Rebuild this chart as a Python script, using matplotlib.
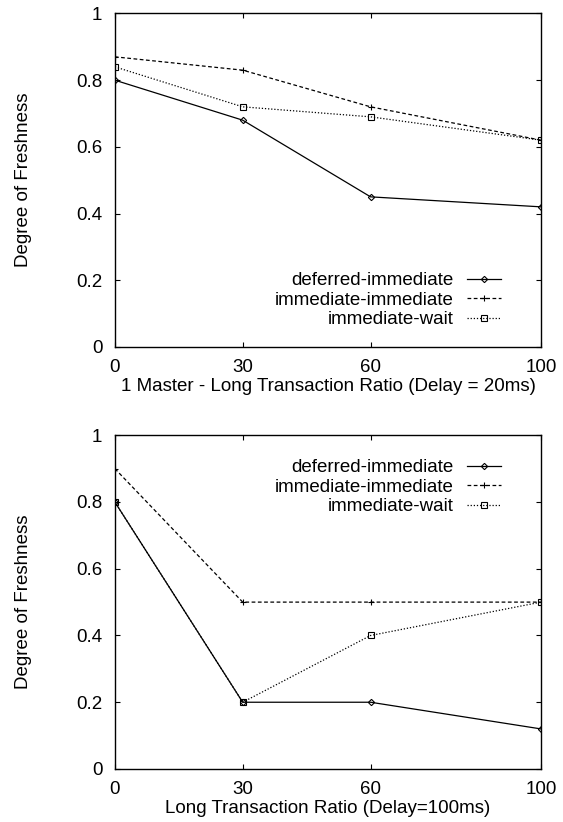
import matplotlib
matplotlib.use('Agg')
import matplotlib.pyplot as plt

plt.rcParams['font.family'] = ['Liberation Sans', 'DejaVu Sans']
plt.rcParams['font.size'] = 13.5

# x values (long transaction ratio)
ratio = [0, 30, 60, 100]

# top panel: 1 master, delay = 20ms
top_deferred_immediate = [0.80, 0.68, 0.45, 0.42]
top_immediate_immediate = [0.87, 0.83, 0.72, 0.62]
top_immediate_wait = [0.84, 0.72, 0.69, 0.62]

# bottom panel: delay = 100ms
bot_deferred_immediate = [0.80, 0.20, 0.20, 0.12]
bot_immediate_immediate = [0.90, 0.50, 0.50, 0.50]
bot_immediate_wait = [0.80, 0.20, 0.40, 0.50]

labels = ['deferred-immediate', 'immediate-immediate', 'immediate-wait']
yticks = [0, 0.2, 0.4, 0.6, 0.8, 1]
ytick_labels = ['0', '0.2', '0.4', '0.6', '0.8', '1']

fig = plt.figure(figsize=(5.63, 8.22), dpi=100)
ax1 = fig.add_axes([0.204, 0.578, 0.757, 0.4056])
ax2 = fig.add_axes([0.204, 0.0645, 0.757, 0.406])

styles = [
    dict(linestyle='-', marker='D', markersize=3.2, fillstyle='none'),
    dict(linestyle=(0, (3, 2)), marker='+', markersize=5),
    dict(linestyle=(0, (1, 1.5)), marker='s', markersize=4, fillstyle='none'),
]


def draw(ax, series, xlabel, legend_y):
    for vals, lab, st in zip(series, labels, styles):
        ax.plot(ratio, vals, color='black', linewidth=0.9, markeredgewidth=0.8,
                label=lab, **st)
    ax.set_xlim(0, 100)
    ax.set_ylim(0, 1)
    ax.set_xticks(ratio)
    ax.set_yticks(yticks)
    ax.set_yticklabels(ytick_labels)
    ax.tick_params(direction='in', length=3.5, width=0.8, pad=9,
                   top=True, right=True, labelsize=13.5)
    for sp in ax.spines.values():
        sp.set_linewidth(1.0)
    ax.set_xlabel(xlabel, fontsize=13.5, labelpad=1)
    ax.set_ylabel('Degree of Freshness', fontsize=13.5, labelpad=32)
    leg = ax.legend(loc='center right', bbox_to_anchor=(0.906, legend_y),
                    frameon=False, markerfirst=False, numpoints=1,
                    handlelength=1.8, handletextpad=0.75, labelspacing=0.12,
                    borderpad=0, borderaxespad=0, fontsize=13.5)
    return leg


draw(ax1, [top_deferred_immediate, top_immediate_immediate, top_immediate_wait],
     '1 Master - Long Transaction Ratio (Delay = 20ms)', 0.14)
draw(ax2, [bot_deferred_immediate, bot_immediate_immediate, bot_immediate_wait],
     'Long Transaction Ratio (Delay=100ms)', 0.844)

fig.savefig('out.png', dpi=100, facecolor='white')
